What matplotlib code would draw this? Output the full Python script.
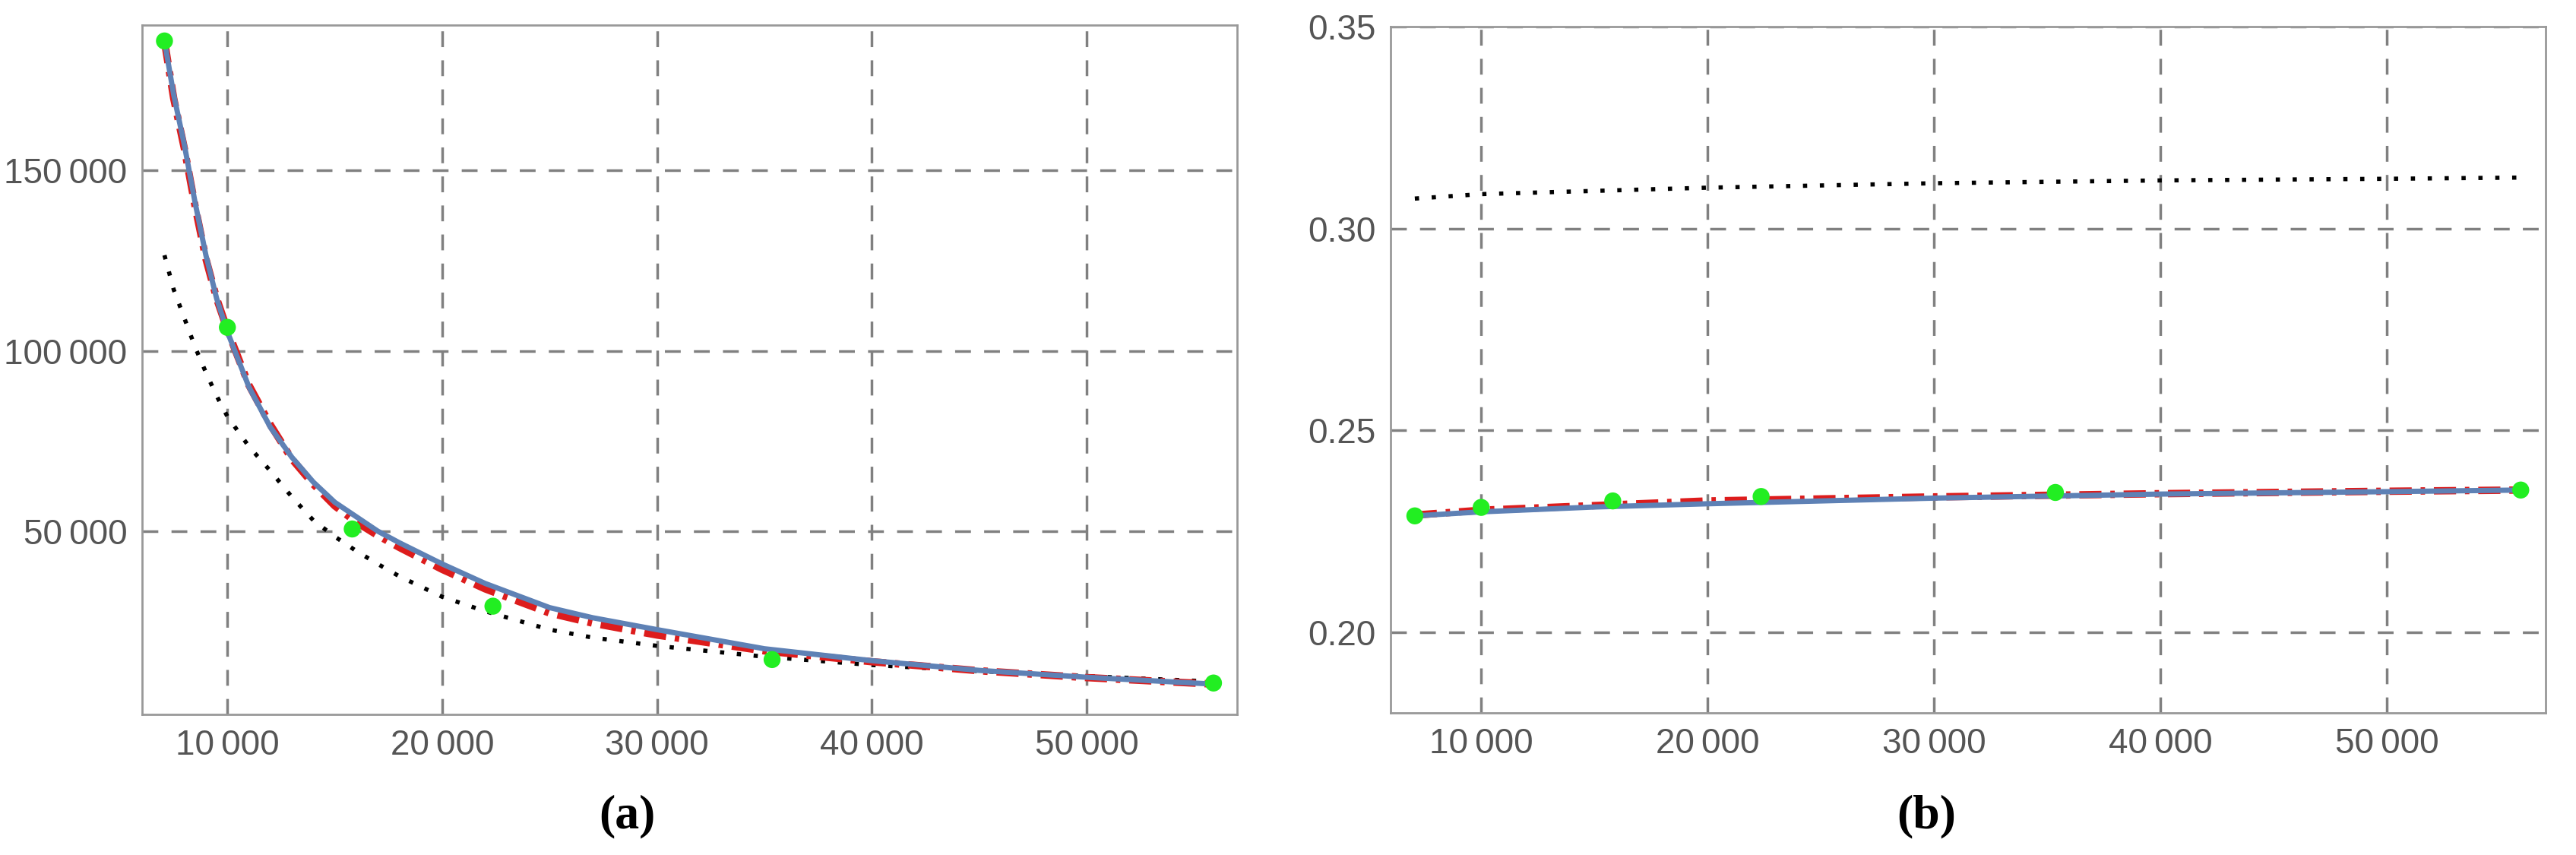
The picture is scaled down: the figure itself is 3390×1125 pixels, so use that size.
import matplotlib
matplotlib.use("Agg")
import matplotlib.pyplot as plt

# Panel (a)
pts_x = [7071, 10000, 15811, 22361, 35355, 55902]
a_pts_y = [185900, 106500, 50600, 29200, 14400, 7900]
a_curve_x = [7071, 7500, 8000, 8500, 9000, 9500, 10000, 11000, 12000, 13000, 14000, 15000, 16000, 17000, 18000,
             20000, 22000, 25000, 27000, 30000, 35000, 40000, 45000, 50000, 55902]
a_blue_y = [185900, 171000, 157000, 141000, 126500, 114500, 105300, 90000, 78800, 70500, 63600, 58000, 54000, 50000, 46800,
            40900, 35500, 28800, 26000, 22700, 17400, 14100, 11400, 9500, 7600]
a_red_y = [185900, 170000, 156000, 140000, 125500, 114500, 105800, 90500, 79500, 70000, 63000, 57000, 52500, 48800, 45500,
           39400, 34000, 27300, 24500, 21200, 16800, 13800, 11300, 9400, 7600]
a_black_x = [7071, 7500, 8000, 8500, 9000, 9500, 10000, 11000, 12000, 13000, 14000, 15000, 16000, 17000, 18000,
             20000, 22000, 25000, 27000, 30000, 35000, 40000, 45000, 50000, 55902]
a_black_y = [126500, 117000, 109000, 101000, 94000, 87500, 81800, 73500, 66700, 59500, 53000, 48500, 44500, 40900, 37500,
             31800, 27800, 22700, 20500, 18200, 15200, 12900, 11200, 9800, 8300]

# Panel (b)
b_pts_y = [0.2288, 0.2309, 0.2325, 0.2336, 0.2346, 0.2352]
b_blue_x = [7071, 10000, 15000, 20000, 30000, 40000, 50000, 55902]
b_blue_y = [0.2288, 0.2298, 0.2310, 0.2318, 0.2332, 0.2342, 0.2348, 0.2352]
b_red_x = [7071, 10000, 20000, 30000, 40000, 50000, 55902]
b_red_y = [0.2290, 0.2302, 0.2325, 0.2335, 0.2343, 0.2349, 0.2352]
b_black_x = [7071, 10000, 20000, 30000, 40000, 50000, 55902]
b_black_y = [0.3074, 0.3085, 0.3101, 0.3112, 0.3119, 0.3123, 0.3126]

xticks = [10000, 20000, 30000, 40000, 50000]
xticklabels = ["10\u2009000", "20\u2009000", "30\u2009000", "40\u2009000", "50\u2009000"]
a_yticks = [50000, 100000, 150000]
a_yticklabels = ["50\u2009000", "100\u2009000", "150\u2009000"]
b_yticks = [0.20, 0.25, 0.30, 0.35]
b_yticklabels = ["0.20", "0.25", "0.30", "0.35"]

W, H = 3390, 1125
fig = plt.figure(figsize=(W/100, H/100), dpi=100)
ax1 = fig.add_axes([187/W, 1-940/H, (1628-187)/W, (940-33)/H])
ax2 = fig.add_axes([1830/W, 1-938/H, (3350-1830)/W, (938-35)/H])

blue = "#5E81B5"
red = "#DD1C1C"
green = "#22EE22"

def style(ax, yticks, ylabels):
    ax.set_xticks(xticks)
    ax.set_xticklabels(xticklabels)
    ax.set_yticks(yticks)
    ax.set_yticklabels(ylabels)
    ax.tick_params(length=0, labelsize=33, labelcolor="#555555", pad=14)
    ax.grid(True, color="#808080", linestyle=(0, (6, 5)), linewidth=2.5)
    for s in ax.spines.values():
        s.set_color("#999999")
        s.set_linewidth(2)
    for t in ax.get_xticklabels() + ax.get_yticklabels():
        t.set_fontfamily(["Liberation Sans", "DejaVu Sans"])

ax1.plot(a_black_x, a_black_y, color="black", linestyle=(0, (1, 3)), linewidth=4, zorder=3)
ax1.plot(a_curve_x, a_red_y, color=red, linestyle=(0, (3, 1.2, 0.6, 1.2)), linewidth=7, zorder=4)
ax1.plot(a_curve_x, a_blue_y, color=blue, linewidth=5, zorder=5)
ax1.scatter(pts_x, a_pts_y, s=260, color=green, zorder=6, edgecolors="none")
ax1.set_xlim(6030, 57000)
ax1.set_ylim(-800, 190300)
style(ax1, a_yticks, a_yticklabels)

ax2.plot(b_black_x, b_black_y, color="black", linestyle=(0, (1, 3)), linewidth=4, zorder=3)
ax2.plot(b_red_x, b_red_y, color=red, linestyle=(0, (3, 1.2, 0.6, 1.2)), linewidth=7, zorder=4)
ax2.plot(b_blue_x, b_blue_y, color=blue, linewidth=5, zorder=5)
ax2.scatter(pts_x, b_pts_y, s=260, color=green, zorder=6, edgecolors="none")
ax2.set_xlim(6000, 57000)
ax2.set_ylim(0.18, 0.35)
style(ax2, b_yticks, b_yticklabels)

fig.text(825/W, 1-1074/H, "(a)", fontsize=46, family="Liberation Serif", weight="bold", ha="center", va="center")
fig.text(2535/W, 1-1074/H, "(b)", fontsize=46, family="Liberation Serif", weight="bold", ha="center", va="center")

fig.savefig("out.png", dpi=100)
